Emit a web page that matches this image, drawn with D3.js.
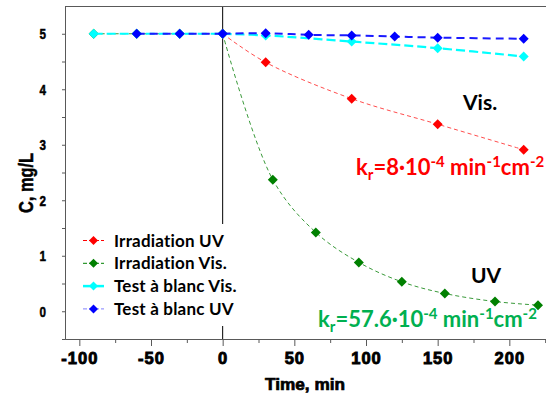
<!DOCTYPE html>
<html>
<head>
<meta charset="utf-8">
<script src="https://cdn.jsdelivr.net/npm/d3@7"></script>
<style>
  body { margin: 0; background: #fff; }
  svg { display: block; }
  text { font-family: "Liberation Sans", Arial, sans-serif; }
  .cal { font-family: Lato, "Open Sans", sans-serif; font-weight: bold; }
</style>
</head>
<body>
<div id="chart"></div>
<script>
// data
const redTime = [0, 30, 90, 150, 210];
const redConc = [5.0, 4.485, 3.83, 3.37, 2.91];

const greenTime = [-90, -60, -30, 0, 35, 65, 95, 125, 155, 190, 220];
const greenConc = [5.0, 5.0, 5.0, 5.0, 2.37, 1.42, 0.88, 0.53, 0.32, 0.175, 0.11];

const cyanTime = [-90, -60, -30, 0, 30, 90, 150, 210];
const cyanConc = [5.0, 5.0, 5.0, 5.0, 4.97, 4.86, 4.74, 4.59];

const blueTime = [-60, -30, 0, 30, 60, 90, 120, 150, 210];
const blueConc = [5.0, 5.0, 5.0, 5.01, 4.98, 4.97, 4.95, 4.93, 4.91];

const seriesNames = ["Irradiation UV", "Irradiation Vis.", "Test à blanc Vis.", "Test à blanc UV"];
const xTicks = [-100, -50, 0, 50, 100, 150, 200];
const yTicks = [0, 1, 2, 3, 4, 5];

const width = 546, height = 396;
const margin = { top: 6, right: 0, bottom: 57, left: 65 };

const svg = d3.select("#chart").append("svg")
  .attr("width", width)
  .attr("height", height);

const x = d3.scaleLinear().domain([-110, 226]).range([margin.left, 546.6]);
const y = d3.scaleLinear().domain([-0.5, 5.5]).range([height - margin.bottom, margin.top]);

const axisColor = "#595959";

// clip
svg.append("clipPath").attr("id", "plot")
  .append("rect")
  .attr("x", margin.left).attr("y", margin.top)
  .attr("width", width - margin.left).attr("height", height - margin.bottom - margin.top);

// vertical line at t = 0
svg.append("line")
  .attr("x1", x(0)).attr("x2", x(0))
  .attr("y1", y(5.5)).attr("y2", y(-0.5))
  .attr("stroke", "#000").attr("stroke-width", 1);

// top frame
svg.append("line")
  .attr("x1", margin.left).attr("x2", width)
  .attr("y1", y(5.5) + 0.5).attr("y2", y(5.5) + 0.5)
  .attr("stroke", axisColor);

// series
const series = [
  { name: seriesNames[0], time: redTime, conc: redConc, color: "#ff0000", line: "#ff4d4d", width: 1, dash: "4,3" },
  { name: seriesNames[1], time: greenTime, conc: greenConc, color: "#008000", line: "#3a9a3a", width: 1, dash: "4,3" },
  { name: seriesNames[2], time: cyanTime, conc: cyanConc, color: "#00ffff", line: "#00ffff", width: 2.2, dash: "9,4" },
  { name: seriesNames[3], time: blueTime, conc: blueConc, color: "#0000ff", line: "#1a1aff", width: 2, dash: "8,5" }
];

const flat = d3.line().x(d => x(d[0])).y(d => y(d[1]));
const fit = d3.line().x(d => x(d[0])).y(d => y(d[1])).curve(d3.curveCatmullRom.alpha(0.5));

const diamond = s => `M0,${-s / 2}L${s / 2},0L0,${s / 2}L${-s / 2},0Z`;

const g = svg.append("g").attr("clip-path", "url(#plot)");

series.forEach(s => {
  const pts = s.time.map((t, i) => [t, s.conc[i]]);
  const before = pts.filter(d => d[0] <= 0);
  const after = pts.filter(d => d[0] >= 0);
  [[before, flat], [after, fit]].forEach(([p, gen]) => {
    if (p.length < 2) return;
    g.append("path")
      .attr("d", gen(p))
      .attr("fill", "none")
      .attr("stroke", s.line)
      .attr("stroke-width", s.width)
      .attr("stroke-dasharray", s.dash);
  });
  g.selectAll(null)
    .data(pts)
    .join("path")
    .attr("transform", d => `translate(${x(d[0])},${y(d[1])})`)
    .attr("d", diamond(10))
    .attr("fill", s.color);
});

// axes
const xAxis = svg.append("g")
  .attr("transform", `translate(0,${y(-0.5)})`)
  .call(d3.axisBottom(x).tickValues(xTicks).tickSize(7).tickSizeOuter(0).tickPadding(6));
const xMinor = svg.append("g")
  .attr("transform", `translate(0,${y(-0.5)})`)
  .call(d3.axisBottom(x).tickValues(d3.range(-75, 226, 50)).tickSize(4).tickFormat("").tickSizeOuter(0));
const yAxis = svg.append("g")
  .attr("transform", `translate(${margin.left},0)`)
  .call(d3.axisLeft(y).tickValues(yTicks).tickSize(3).tickSizeOuter(0).tickPadding(16).tickFormat(d3.format("d")));
const yMinor = svg.append("g")
  .attr("transform", `translate(${margin.left},0)`)
  .call(d3.axisLeft(y).tickValues([-0.5, 0.5, 1.5, 2.5, 3.5, 4.5]).tickSize(3).tickFormat("").tickSizeOuter(0));

[xAxis, xMinor, yAxis, yMinor].forEach(a => {
  a.selectAll("path, line").attr("stroke", axisColor);
});
xAxis.selectAll("text")
  .text(d => d < 0 ? "-" + Math.abs(d) : d)
  .attr("fill", "#000")
  .attr("font-size", 16.5)
  .attr("font-weight", "bold")
  .attr("letter-spacing", 1)
  .attr("stroke", "#000").attr("stroke-width", 0.9)
  .style("font-family", "'Liberation Sans', Arial, sans-serif");
yAxis.selectAll("text")
  .attr("fill", "#000")
  .attr("font-size", 15.5)
  .attr("font-weight", "bold")
  .attr("stroke", "#000").attr("stroke-width", 0.5)
  .attr("textLength", 6.5)
  .attr("lengthAdjust", "spacingAndGlyphs")
  .style("font-family", "'Liberation Sans', Arial, sans-serif");

// axis titles
svg.append("text")
  .attr("x", 265).attr("y", 390)
  .attr("font-size", 16.5).attr("font-weight", "bold")
  .attr("textLength", 80).attr("lengthAdjust", "spacingAndGlyphs")
  .attr("stroke", "#000").attr("stroke-width", 0.7)
  .text("Time, min");

svg.append("text")
  .attr("transform", "translate(33,213) rotate(-90)")
  .attr("font-size", 20).attr("font-weight", "bold")
  .attr("textLength", 60).attr("lengthAdjust", "spacingAndGlyphs")
  .attr("stroke", "#000").attr("stroke-width", 0.5)
  .text("C, mg/L");

// legend
const legend = svg.append("g");
legend.append("rect")
  .attr("x", 76).attr("y", 224)
  .attr("width", 168).attr("height", 102)
  .attr("fill", "#fff");
const legendLine = ["#ff0000", "#008000", "#00ffff", "#8080ff"];
const legendWidth = [1, 1, 2.5, 1];
series.forEach((s, i) => {
  const ly = 240.5 + i * 22.8;
  legend.append("line")
    .attr("x1", 83).attr("x2", 104)
    .attr("y1", ly).attr("y2", ly)
    .attr("stroke", legendLine[i])
    .attr("stroke-width", legendWidth[i])
    .attr("stroke-dasharray", i === 2 ? null : "4,2");
  legend.append("path")
    .attr("transform", `translate(93.5,${ly})`)
    .attr("d", diamond(9))
    .attr("fill", s.color);
  legend.append("text")
    .attr("class", "cal")
    .attr("x", 114).attr("y", ly + 6)
    .attr("font-size", 17)
    .attr("letter-spacing", 0.2)
    .attr("fill", "#000")
    .text(s.name);
});

// annotations
svg.append("text").attr("class", "cal")
  .attr("x", 463).attr("y", 110)
  .attr("font-size", 21).attr("fill", "#000")
  .text("Vis.");
svg.append("text").attr("class", "cal")
  .attr("x", 471).attr("y", 283)
  .attr("font-size", 21).attr("fill", "#000")
  .text("UV");

function rateLabel(xPos, yPos, value, color) {
  const t = svg.append("text").attr("class", "cal")
    .attr("x", xPos).attr("y", yPos)
    .attr("font-size", 22).attr("fill", color);
  t.append("tspan").text("k");
  t.append("tspan").attr("font-size", 15).attr("dy", 5).text("r");
  t.append("tspan").attr("dy", -5).text("=" + value + "·10");
  t.append("tspan").attr("font-size", 15).attr("dy", -8).text("-4");
  t.append("tspan").attr("dy", 8).text(" min");
  t.append("tspan").attr("font-size", 15).attr("dy", -8).text("-1");
  t.append("tspan").attr("dy", 8).text("cm");
  t.append("tspan").attr("font-size", 15).attr("dy", -8).text("-2");
}
rateLabel(356, 175, "8", "#ff0000");
rateLabel(318, 327, "57.6", "#00b050");
</script>
</body>
</html>
